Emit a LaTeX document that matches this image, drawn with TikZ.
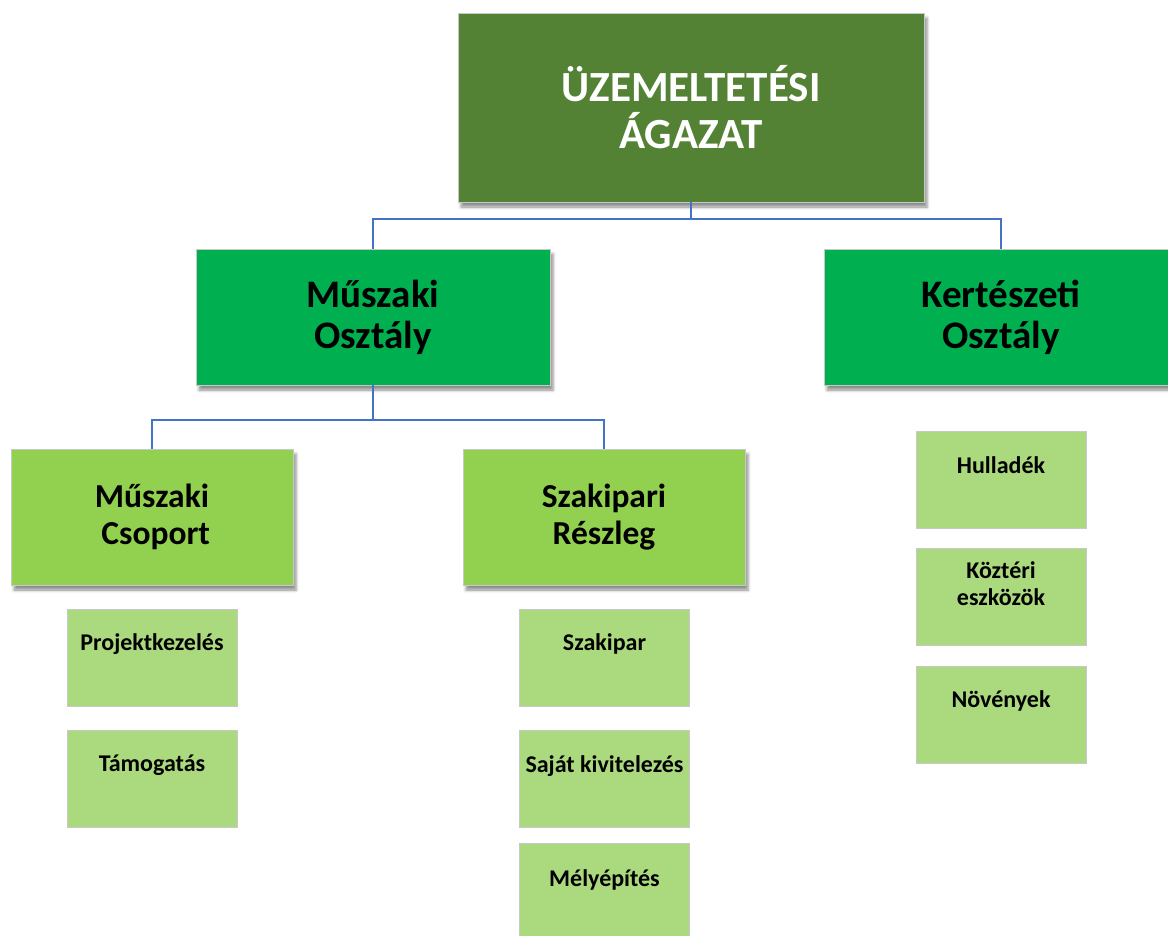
\documentclass[tikz,border=0pt]{standalone}
\usepackage{fontspec}
\setmainfont{Carlito}
\usetikzlibrary{calc,shadows.blur}
\definecolor{topgreen}{HTML}{548235}
\definecolor{midgreen}{HTML}{00B050}
\definecolor{lowgreen}{HTML}{92D050}
\definecolor{smallgreen}{HTML}{ABD97E}
\definecolor{connblue}{HTML}{4472C4}
\definecolor{edgegray}{HTML}{C8C8C8}
\tikzset{
  shad/.style={blur shadow={shadow xshift=3pt,shadow yshift=-5pt,shadow blur radius=3pt,shadow opacity=45}},
  topbox/.style={shad,draw=edgegray,line width=0.8pt,fill=topgreen,minimum width=466pt,minimum height=189pt,inner sep=0pt,
    text=white,font=\bfseries\fontsize{43}{47}\selectfont,align=center},
  midbox/.style={shad,draw=edgegray,line width=0.8pt,fill=midgreen,minimum width=354pt,minimum height=136pt,inner sep=0pt,
    font=\bfseries\fontsize{39}{41}\selectfont,align=center},
  lowbox/.style={shad,draw=edgegray,line width=0.8pt,fill=lowgreen,minimum width=282pt,minimum height=136pt,inner sep=0pt,
    font=\bfseries\fontsize{33.5}{37}\selectfont,align=center},
  smallbox/.style={draw=edgegray,line width=0.8pt,fill=smallgreen,minimum width=170pt,minimum height=97pt,inner sep=0pt},
  smalltxt/.style={font=\bfseries\fontsize{24}{27}\selectfont,align=center,inner sep=0pt},
  conn/.style={draw=connblue,line width=1.8pt}
}
\begin{document}
\begin{tikzpicture}[x=1pt,y=-1pt]
\useasboundingbox (0,0) rectangle (1168,935);
\clip (0,0) rectangle (1168,935);
% connectors
\coordinate (j1) at (691,219);
\coordinate (j2) at (373,420);
% boxes
\node[topbox] (top) at (691,107.5) {ÜZEMELTETÉSI\\ÁGAZAT};
\node[midbox] (mo) at (373,317) {Műszaki\\Osztály};
\node[midbox] (ko) at (1001,317) {Kertészeti\\Osztály};
\node[lowbox] (mcs) at (152,517) {Műszaki\\\ Csoport};
\node[lowbox] (szr) at (604,517) {Szakipari\\Részleg};
\draw[conn] (top.south) -- (j1) -| (mo.north);
\draw[conn] (j1) -| (ko.north);
\draw[conn] (mo.south) -- (j2) -| (mcs.north);
\draw[conn] (j2) -| (szr.north);
% small boxes
\node[smallbox] (pk) at (152,657.5) {};
\node[smalltxt] (pkt) at ($(pk.north)+(0,35)$) {Projektkezelés};
\node[smallbox] (tm) at (152,778.5) {};
\node[smalltxt] (tmt) at ($(tm.north)+(0,36)$) {Támogatás};
\node[smallbox] (sz) at (604.5,657.5) {};
\node[smalltxt] (szt) at ($(sz.north)+(0,35)$) {Szakipar};
\node[smallbox] (sk) at (604.5,778.5) {};
\node[smalltxt] (skt) at ($(sk.north)+(0,36)$) {Saját kivitelezés};
\node[smallbox] (me) at (604.5,891.5) {};
\node[smalltxt] (met) at ($(me.north)+(0,37)$) {Mélyépítés};
\node[smallbox] (hu) at (1001,480) {};
\node[smalltxt] (hut) at ($(hu.north)+(0,34)$) {Hulladék};
\node[smallbox] (kz) at (1001,597) {};
\node[smalltxt] (kzt) at ($(kz.north)+(0,36)$) {Köztéri\\eszközök};
\node[smallbox] (nv) at (1001,715) {};
\node[smalltxt] (nvt) at ($(nv.north)+(0,35)$) {Növények};
\end{tikzpicture}
\end{document}
